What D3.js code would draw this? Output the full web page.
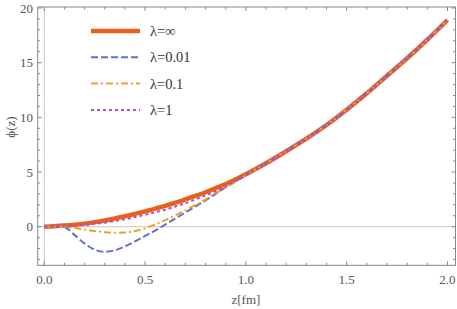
<!DOCTYPE html>
<html>
<head>
<meta charset="utf-8">
<title>phi(z)</title>
<script src="https://cdn.jsdelivr.net/npm/d3@7"></script>
</head>
<body style="margin:0;background:#fff">
<svg id="plot" width="457" height="309" font-family="Liberation Serif"></svg>
<script>
// z grid (fm) shared by all curves
const zValues = [0, 0.05, 0.1, 0.15, 0.2, 0.25, 0.3, 0.35, 0.4, 0.45, 0.5, 0.55, 0.6, 0.65, 0.7, 0.75, 0.8, 0.85, 0.9, 0.95, 1.0,
                 1.1, 1.2, 1.3, 1.4, 1.5, 1.6, 1.7, 1.8, 1.9, 2.0];
// phi(z)
const phiInf  = [0, 0.04, 0.1, 0.18, 0.28, 0.42, 0.58, 0.76, 0.95, 1.17, 1.4, 1.65, 1.9, 2.2, 2.5, 2.82, 3.15, 3.52, 3.9, 4.33, 4.8,
                 5.8, 6.9, 8.05, 9.3, 10.7, 12.2, 13.8, 15.4, 17.1, 18.9];
const phi001  = [0, 0, -0.05, -0.75, -1.55, -2.1, -2.3, -2.15, -1.8, -1.35, -0.85, -0.35, 0.2, 0.75, 1.3, 1.85, 2.4, 3.0, 3.6, 4.15, 4.7,
                 5.8, 6.9, 8.05, 9.3, 10.7, 12.2, 13.8, 15.4, 17.1, 18.9];
const phi01   = [0, 0, -0.02, -0.12, -0.27, -0.4, -0.5, -0.55, -0.53, -0.4, -0.15, 0.2, 0.6, 1.05, 1.5, 2.0, 2.5, 3.05, 3.6, 4.15, 4.7,
                 5.8, 6.9, 8.05, 9.3, 10.7, 12.2, 13.8, 15.4, 17.1, 18.9];
const phi1    = [0, 0.02, 0.05, 0.1, 0.17, 0.26, 0.37, 0.52, 0.68, 0.88, 1.1, 1.32, 1.55, 1.85, 2.15, 2.5, 2.85, 3.25, 3.7, 4.2, 4.7,
                 5.8, 6.9, 8.05, 9.3, 10.7, 12.2, 13.8, 15.4, 17.1, 18.9];

const seriesNames = ["λ=∞", "λ=0.01", "λ=0.1", "λ=1"];
const xTickLabels = ["0.0", "0.5", "1.0", "1.5", "2.0"];
const yTickLabels = ["0", "5", "10", "15", "20"];

const frame = { left: 37.7, right: 455.5, top: 7, bottom: 265.3 };

const styles = [
  { color: "#e8601c", width: 4.5, dash: null },
  { color: "#5f6fcf", width: 2, dash: "7,3" },
  { color: "#f5a01d", width: 2, dash: "7,3,2,3" },
  { color: "#b24ec4", width: 2, dash: "3,3" }
];
const seriesValues = [phiInf, phi001, phi01, phi1];

const svg = d3.select("#plot");

const xScale = d3.scaleLinear().domain([-0.0327, 2.0397]).range([frame.left, frame.right]);
const yScale = d3.scaleLinear().domain([-3.53, 20.09]).range([frame.bottom, frame.top]);

// light axes through the origin
svg.append("line").attr("x1", frame.left).attr("x2", frame.right)
  .attr("y1", yScale(0)).attr("y2", yScale(0)).attr("stroke", "#c8c8c8");
svg.append("line").attr("x1", xScale(0)).attr("x2", xScale(0))
  .attr("y1", frame.top).attr("y2", frame.bottom).attr("stroke", "#c8c8c8");

// curves
const lineGen = d3.line().x(d => xScale(d[0])).y(d => yScale(d[1])).curve(d3.curveMonotoneX);
svg.selectAll("path.curve")
  .data(seriesValues.map(vals => zValues.map((z, j) => [z, vals[j]])))
  .join("path")
  .attr("class", "curve")
  .attr("d", d => lineGen(d))
  .attr("fill", "none")
  .attr("stroke", (d, i) => styles[i].color)
  .attr("stroke-width", (d, i) => styles[i].width)
  .attr("stroke-dasharray", (d, i) => styles[i].dash);

// frame
svg.append("rect")
  .attr("x", frame.left).attr("y", frame.top)
  .attr("width", frame.right - frame.left).attr("height", frame.bottom - frame.top)
  .attr("fill", "none").attr("stroke", "#888");

// ticks on all four sides, pointing inward
const xTicks = d3.range(0, 21).map(k => ({ v: k / 10, major: k % 5 === 0 }));
const yTicks = d3.range(-3, 21).map(k => ({ v: k, major: k % 5 === 0 }));
const tickG = svg.append("g").attr("stroke", "#888");
[frame.bottom, frame.top].forEach(edge => {
  const dir = edge === frame.bottom ? -1 : 1;
  tickG.selectAll(null).data(xTicks).join("line")
    .attr("x1", d => xScale(d.v)).attr("x2", d => xScale(d.v))
    .attr("y1", edge).attr("y2", d => edge + dir * (d.major ? 4 : 2.5));
});
[frame.left, frame.right].forEach(edge => {
  const dir = edge === frame.left ? 1 : -1;
  tickG.selectAll(null).data(yTicks).join("line")
    .attr("y1", d => yScale(d.v)).attr("y2", d => yScale(d.v))
    .attr("x1", edge).attr("x2", d => edge + dir * (d.major ? 4 : 2.5));
});

// tick labels
svg.selectAll("text.xlab").data(xTickLabels).join("text")
  .attr("class", "xlab")
  .attr("x", d => xScale(+d)).attr("y", 284)
  .attr("text-anchor", "middle").attr("font-size", 13).attr("fill", "#555")
  .attr("style", "font-family:'Liberation Serif'")
  .text(d => d);
svg.selectAll("text.ylab").data(yTickLabels).join("text")
  .attr("class", "ylab")
  .attr("x", 33).attr("y", d => yScale(+d)).attr("dy", "0.35em")
  .attr("text-anchor", "end").attr("font-size", 13).attr("fill", "#555")
  .attr("style", "font-family:'Liberation Serif'")
  .text(d => d);

// axis labels
svg.append("text")
  .attr("x", xScale(1.0)).attr("y", 304)
  .attr("text-anchor", "middle").attr("fill", "#555").attr("font-size", 13)
  .attr("style", "font-family:'Liberation Serif'")
  .text("z[fm]");
svg.append("text")
  .attr("transform", "translate(15,127) rotate(-90)")
  .attr("text-anchor", "middle").attr("fill", "#555").attr("font-size", 13)
  .attr("style", "font-family:'Liberation Serif'")
  .text("ϕ(z)");

// legend
const legend = svg.append("g").attr("transform", "translate(91,31)");
seriesNames.forEach((name, i) => {
  const row = legend.append("g").attr("transform", `translate(0,${i * 26.3})`);
  row.append("line").attr("x1", 0).attr("x2", 49).attr("y1", 0).attr("y2", 0)
    .attr("stroke", styles[i].color)
    .attr("stroke-width", styles[i].width)
    .attr("stroke-dasharray", styles[i].dash);
  row.append("text").attr("x", 59).attr("y", 0).attr("dy", "0.35em")
    .attr("font-size", 14.5).attr("fill", "#333")
    .attr("style", "font-family:'Liberation Serif'")
    .text(name);
});
</script>
</body>
</html>
